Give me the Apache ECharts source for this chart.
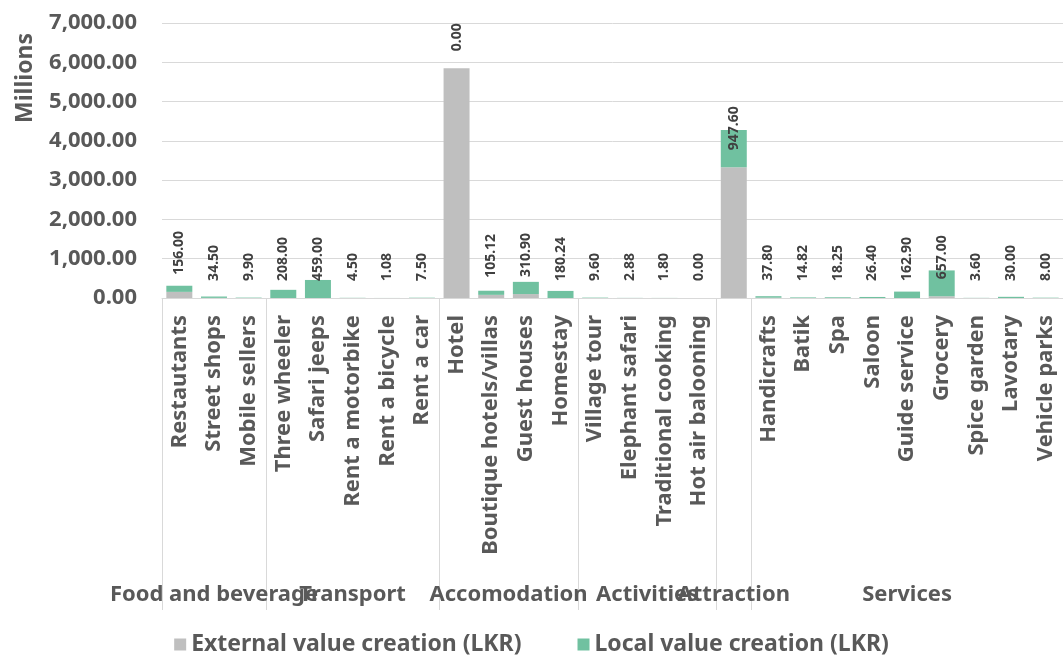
<!DOCTYPE html>
<html>
<head>
<meta charset="utf-8">
<script src="https://cdn.jsdelivr.net/npm/echarts@6/dist/echarts.min.js"></script>
<style>
html,body{margin:0;padding:0;background:#fff;}
#chart{width:1063px;height:659px;}
</style>
</head>
<body>
<div id="chart"></div>
<script>
const categories = ['Restautants','Street shops','Mobile sellers','Three wheeler','Safari jeeps','Rent a motorbike','Rent a bicycle','Rent a car','Hotel','Boutique hotels/villas','Guest houses','Homestay','Village tour','Elephant safari','Traditional cooking','Hot air balooning','','Handicrafts','Batik','Spa','Saloon','Guide service','Grocery','Spice garden','Lavotary','Vehicle parks'];
const groups = ['Food and beverage','Transport','Accomodation','Activities','Attraction','Services'];
const groupSizes = [3,5,4,4,1,9];
const externalValues = [156,3,0,0,0,0,0,0,5850,80,100,0,0,0,0,0,3330,8,0,0,0,0,45,0,0,0];
const localValues = [156,34.5,9.9,208,459,4.5,1.08,7.5,0,105.12,310.9,180.24,9.6,2.88,1.8,0,947.6,37.8,14.82,18.25,26.4,162.9,657,3.6,30,8];
const yTicks = [0,1000,2000,3000,4000,5000,6000,7000];

const FONT = 'Noto Sans';
const TXT = '#595959';
const GRIDC = '#D9D9D9';

const boundaries = [0];
const centers = [];
groupSizes.forEach(function(s){
  const start = boundaries[boundaries.length-1];
  centers.push(start + s/2);
  boundaries.push(start + s);
});
const centerName = {};
centers.forEach(function(c,i){ centerName[c] = groups[i]; });
const total = boundaries[boundaries.length-1];
const labelValues = [0].concat(centers, [total]);

function fmt(v){
  const parts = v.toFixed(2).split('.');
  parts[0] = parts[0].replace(/\B(?=(\d{3})+(?!\d))/g, ',');
  return parts.join('.');
}

const chart = echarts.init(document.getElementById('chart'), null, {renderer:'canvas'});
chart.setOption({
  backgroundColor:'#ffffff',
  animation:false,
  textStyle:{fontFamily:FONT},
  grid:{left:162,right:0,top:23,bottom:361,containLabel:false,outerBoundsMode:'none'},
  legend:{
    data:['External value creation (LKR)','Local value creation (LKR)'],
    icon:'rect', itemWidth:12, itemHeight:12, itemGap:56,
    top:628, left:'center',
    textStyle:{fontFamily:FONT,fontWeight:'bold',fontSize:23,color:TXT}
  },
  graphic:[{
    type:'text', x:25, y:78, rotation:Math.PI/2,
    style:{text:'Millions', fill:TXT, font:'bold 23px "Noto Sans"', textAlign:'center', textVerticalAlign:'middle'}
  }],
  xAxis:[{
    type:'category', data:categories, boundaryGap:true,
    axisLine:{show:true,lineStyle:{color:GRIDC,width:1}},
    axisTick:{show:false},
    axisLabel:{interval:0, rotate:90, margin:17, color:TXT, fontFamily:FONT, fontWeight:'bold', fontSize:22}
  },{
    type:'value', min:0, max:total, position:'bottom', offset:0,
    axisLine:{show:false},
    splitLine:{show:false},
    axisTick:{show:true, customValues:boundaries, length:312, inside:false, lineStyle:{color:GRIDC,width:1}},
    axisLabel:{show:true, customValues:labelValues, margin:286, hideOverlap:false,
      color:TXT, fontFamily:FONT, fontWeight:'bold', fontSize:22,
      formatter:function(v){ return centerName[v] || ''; }}
  }],
  yAxis:{
    type:'value', min:yTicks[0], max:yTicks[yTicks.length-1], interval:1000,
    axisLine:{show:false}, axisTick:{show:false},
    splitLine:{show:true,lineStyle:{color:GRIDC,width:1}},
    axisLabel:{margin:25, color:TXT, fontFamily:FONT, fontWeight:'bold', fontSize:22, formatter:fmt}
  },
  series:[{
    name:'External value creation (LKR)', type:'bar', stack:'total', xAxisIndex:0,
    barCategoryGap:'25%', data:externalValues,
    itemStyle:{color:'#BFBFBF'}
  },{
    name:'Local value creation (LKR)', type:'bar', stack:'total', xAxisIndex:0,
    barCategoryGap:'25%', data:localValues,
    itemStyle:{color:'#70C1A0'},
    label:{show:true, position:'insideBottom', distance:17, rotate:90, align:'left', verticalAlign:'middle',
      formatter:function(p){ return p.value.toFixed(2); },
      fontFamily:FONT, fontWeight:'bold', fontSize:14, color:'#404040'}
  }]
});
</script>
</body>
</html>
